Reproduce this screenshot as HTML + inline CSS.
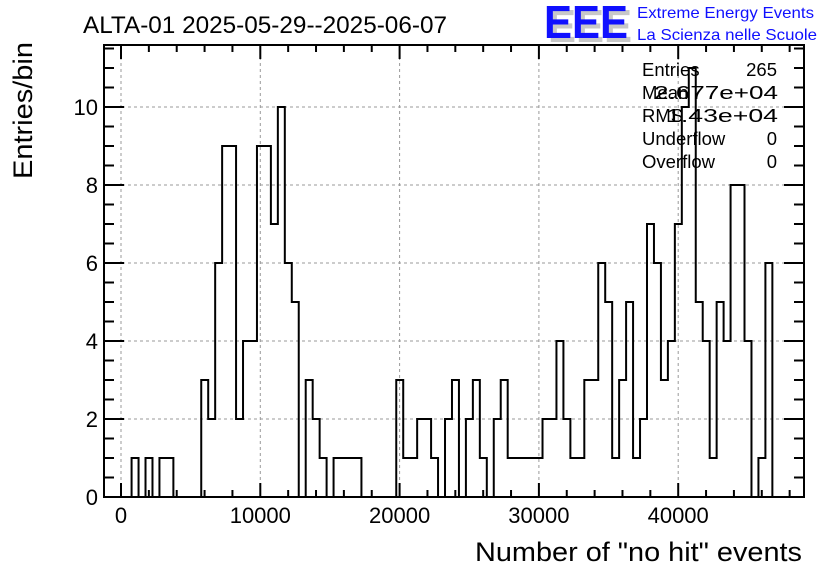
<!DOCTYPE html>
<html><head><meta charset="utf-8"><style>
body{margin:0;background:#fff;}
svg{display:block;font-family:"Liberation Sans",sans-serif;}
</style></head><body>
<svg id="c" width="836" height="572" viewBox="0 0 836 572">
<text x="83" y="33" font-size="24" fill="#000" textLength="364" lengthAdjust="spacingAndGlyphs">ALTA-01 2025-05-29--2025-06-07</text>
<g>
<text x="548" y="42" font-size="46" font-weight="bold" fill="#c8c8c8" textLength="84" lengthAdjust="spacingAndGlyphs">EEE</text>
<text x="544" y="38" font-size="46" font-weight="bold" fill="#1010ff" textLength="84" lengthAdjust="spacingAndGlyphs">EEE</text>
<text x="637" y="18" font-size="16" fill="#1010ff" textLength="177" lengthAdjust="spacingAndGlyphs">Extreme Energy Events</text>
<text x="637" y="40" font-size="16" fill="#1010ff" textLength="180" lengthAdjust="spacingAndGlyphs">La Scienza nelle Scuole</text>
</g>
<g id="grid"></g>
<g id="axes"></g>
<path id="hist" fill="none" stroke="#000" stroke-width="2"/>
<rect x="104" y="45" width="700" height="452" fill="none" stroke="#000" stroke-width="2"/>
<g font-size="18.5" fill="#000">
<text x="642" y="76">Entries</text><text x="777" y="76" text-anchor="end">265</text>
<text x="642" y="99">Mean</text><text x="778" y="99" text-anchor="end" textLength="124" lengthAdjust="spacingAndGlyphs">2.677e+04</text>
<text x="642" y="122">RMS</text><text x="778" y="122" text-anchor="end" textLength="112" lengthAdjust="spacingAndGlyphs">1.43e+04</text>
<text x="642" y="145">Underflow</text><text x="777" y="145" text-anchor="end">0</text>
<text x="642" y="168">Overflow</text><text x="777" y="168" text-anchor="end">0</text>
</g>
<text x="802" y="561" font-size="27" text-anchor="end" textLength="327" lengthAdjust="spacingAndGlyphs">Number of "no hit" events</text>
<text transform="translate(32,179) rotate(-90)" font-size="27" textLength="137" lengthAdjust="spacingAndGlyphs">Entries/bin</text>
</svg>
<script>
const binStart = 260;
const binWidth = 500;
const counts = [0,1,0,1,0,1,1,0,0,0,0,3,2,6,9,9,2,4,4,9,9,7,10,6,5,0,3,2,1,0,1,1,1,1,0,0,0,0,0,3,1,1,2,2,1,0,2,3,0,2,3,1,0,2,3,1,1,1,1,1,2,2,4,2,1,1,3,3,6,5,1,3,5,1,2,7,6,3,4,7,10,11,5,4,1,5,4,8,8,4,0,1,6];
const xTicks = [0,10000,20000,30000,40000];
const yTicks = [0,2,4,6,8,10];
const X0=104,X1=804,Y0=497,Y1=45;
const xs = v => 121 + v*0.013930;
const ys = v => 497 - v*39;
const NS="http://www.w3.org/2000/svg";
const grid=document.getElementById('grid'), axes=document.getElementById('axes');
function ln(p,x1,y1,x2,y2,st,w,dash){const l=document.createElementNS(NS,'line');l.setAttribute('x1',x1);l.setAttribute('y1',y1);l.setAttribute('x2',x2);l.setAttribute('y2',y2);l.setAttribute('stroke',st);l.setAttribute('stroke-width',w);if(dash)l.setAttribute('stroke-dasharray',dash);p.appendChild(l);return l;}
xTicks.forEach(v=>{const l=ln(grid,xs(v),Y1,xs(v),Y0,'#999',1,'3,3');

});
yTicks.forEach(v=>{if(v===0)return;const l=ln(grid,X0,ys(v),X1,ys(v),'#999',1,'3,3');

});
for(let v=0;v<=48000;v+=2000){const maj=v%10000===0,L=maj?14:7;
ln(axes,xs(v),Y0,xs(v),Y0-L,'#000',2);ln(axes,xs(v),Y1,xs(v),Y1+L,'#000',2);}
for(let v=0;v<=11.5;v+=0.5){const maj=v%2===0,L=maj?20:10;
ln(axes,X0,ys(v),X0+L,ys(v),'#000',2);ln(axes,X1,ys(v),X1-L,ys(v),'#000',2);}
xTicks.forEach(v=>{const t=document.createElementNS(NS,'text');t.setAttribute('x',xs(v));t.setAttribute('y',523);t.setAttribute('text-anchor','middle');t.setAttribute('font-size','22');t.textContent=v;


axes.appendChild(t);});
yTicks.forEach(v=>{const t=document.createElementNS(NS,'text');t.setAttribute('x',98);t.setAttribute('y',ys(v)+8);t.setAttribute('text-anchor','end');t.setAttribute('font-size','22');t.textContent=v;


axes.appendChild(t);});
let d='M'+xs(binStart)+','+ys(0);
counts.forEach((c,i)=>{const a=xs(binStart+i*binWidth),b=xs(binStart+(i+1)*binWidth);d+=' L'+a+','+ys(c)+' L'+b+','+ys(c);});
d+=' L'+xs(binStart+counts.length*binWidth)+','+ys(0);
document.getElementById('hist').setAttribute('d',d);
</script>
</body></html>
